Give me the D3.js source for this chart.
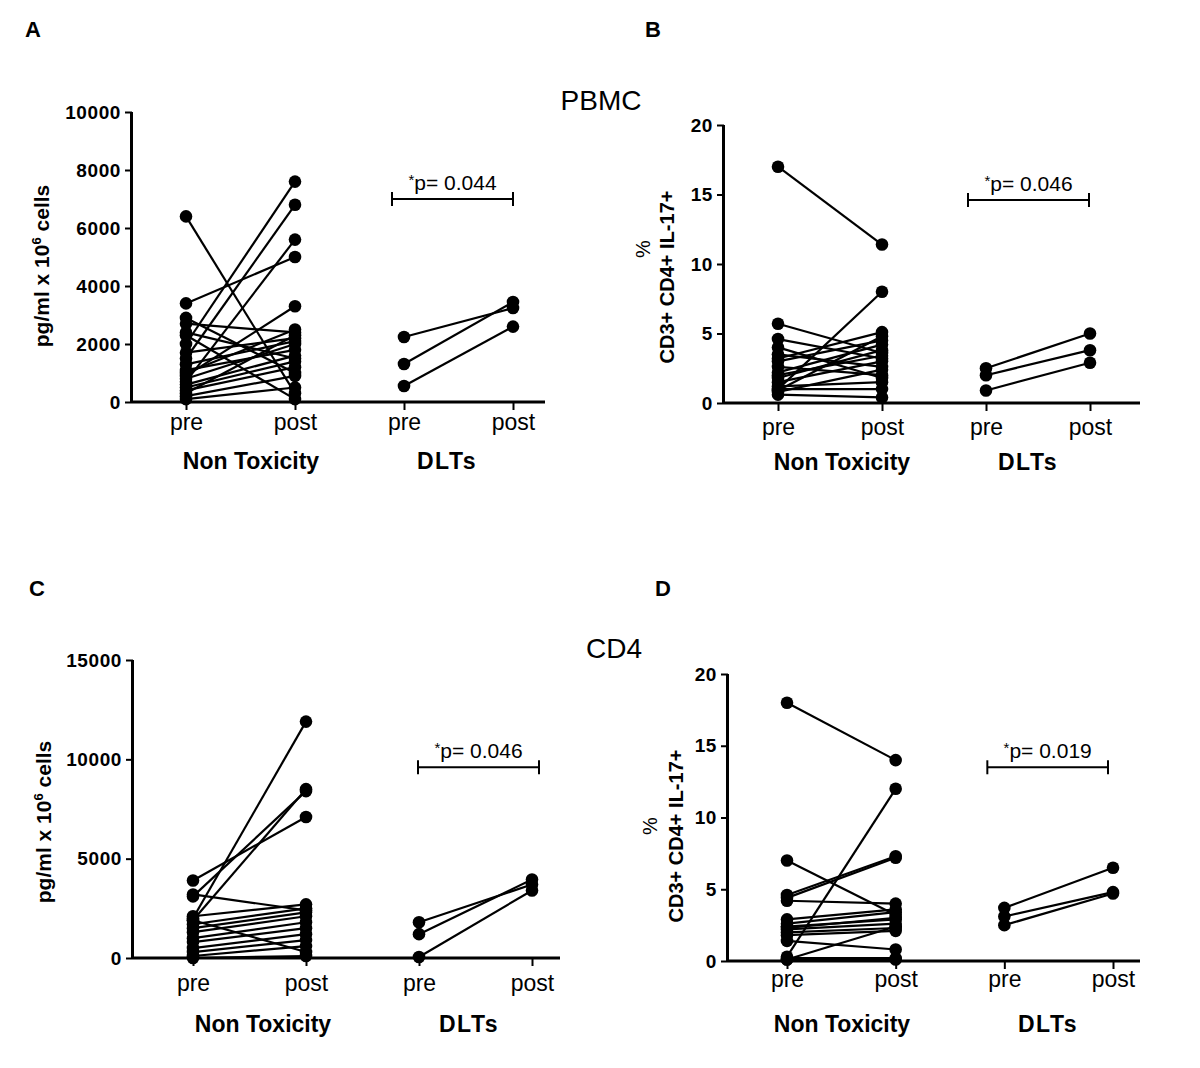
<!DOCTYPE html>
<html>
<head>
<meta charset="utf-8">
<script src="https://cdn.jsdelivr.net/npm/d3@7"></script>
<style>
  html, body { margin: 0; padding: 0; background: #fff; }
  svg { display: block; }
  text { font-family: "Liberation Sans", Arial, sans-serif; fill: #000; }
</style>
</head>
<body>
<svg id="chart" width="1200" height="1068"></svg>
<script>
// ---------- data ----------
const categories = ["NT-pre", "NT-post", "DLT-pre", "DLT-post"];
const categoryLabels = ["pre", "post", "pre", "post"];
const groupLabels = ["Non Toxicity", "DLTs"];
const panelLetters = ["A", "B", "C", "D"];
const rowTitles = ["PBMC", "CD4"];

// Panel A: IL-17 pg/ml x 10^6 cells (PBMC)
const aTicks = [0, 2000, 4000, 6000, 8000, 10000];
const aNtPre  = [6400, 2000, 1500, 700, 3400, 900, 2900, 2700, 2400, 2300, 1700, 1300, 1100, 800, 600, 500, 400, 300, 200, 100, 1000];
const aNtPost = [300, 7600, 6800, 5600, 5000, 3300, 1000, 2400, 1500, 100, 2200, 2100, 1800, 2000, 1600, 1400, 1200, 2300, 900, 500, 2500];
const aDltPre  = [2240, 1310, 550];
const aDltPost = [3240, 3450, 2600];
const aSig = 7000, aP = "p= 0.044";

// Panel B: % CD3+ CD4+ IL-17+ (PBMC)
const bTicks = [0, 5, 10, 15, 20];
const bNtPre  = [17.0, 1.0, 5.7, 4.6, 4.0, 3.2, 3.0, 2.6, 2.2, 1.8, 1.5, 1.2, 0.8, 0.6, 1.0, 2.0, 3.5, 0.9];
const bNtPost = [11.4, 8.0, 3.6, 3.2, 1.8, 5.1, 4.5, 2.0, 4.2, 3.8, 3.0, 1.5, 2.4, 0.4, 1.0, 3.4, 2.6, 4.8];
const bDltPre  = [2.5, 2.0, 0.9];
const bDltPost = [5.0, 3.8, 2.9];
const bSig = 14.6, bP = "p= 0.046";

// Panel C: IL-17 pg/ml x 10^6 cells (CD4)
const cTicks = [0, 5000, 10000, 15000];
const cNtPre  = [2000, 3900, 3100, 1900, 3200, 2100, 1700, 1500, 1300, 1000, 800, 500, 300, 100, 0, 1900];
const cNtPost = [11900, 7100, 8400, 8500, 2400, 2700, 2500, 2300, 2100, 1800, 1500, 1200, 900, 600, 100, 300];
const cDltPre  = [1800, 1200, 50];
const cDltPost = [3700, 3950, 3400];
const cSig = 9600, cP = "p= 0.046";

// Panel D: % CD3+ CD4+ IL-17+ (CD4)
const dTicks = [0, 5, 10, 15, 20];
const dNtPre  = [18.0, 0.3, 7.0, 4.6, 4.4, 4.2, 2.9, 2.6, 2.4, 2.2, 2.0, 1.8, 1.4, 0.2, 0.1, 2.3, 0.1];
const dNtPost = [14.0, 12.0, 3.2, 7.3, 7.2, 4.0, 3.6, 3.4, 2.9, 2.6, 2.3, 2.1, 0.8, 0.2, 0.1, 3.0, 2.4];
const dDltPre  = [3.7, 3.1, 2.5];
const dDltPost = [6.5, 4.8, 4.7];
const dSig = 13.5, dP = "p= 0.019";

// ---------- layout ----------
const panels = [
  { letter: panelLetters[0], ticks: aTicks, max: 10000, ntPre: aNtPre, ntPost: aNtPost, dltPre: aDltPre, dltPost: aDltPost, sig: aSig, p: aP,
    axX: 132, y0: 402, yTop: 112, xr: [186, 513], xEnd: 545, sigX: [-12, 0],
    yLabel: "pg", ylx: 49, yly: 266, catOff: 28, grpY: 469, grpX: [251, 447], letterPos: [25, 37] },
  { letter: panelLetters[1], ticks: bTicks, max: 20, ntPre: bNtPre, ntPost: bNtPost, dltPre: bDltPre, dltPost: bDltPost, sig: bSig, p: bP,
    axX: 724, y0: 403, yTop: 125, xr: [778, 1090], xEnd: 1140, sigX: [-18, -1],
    yLabel: "pct", ylx: [650, 674], yly: [249, 277], catOff: 32, grpY: 470, grpX: [842, 1028], letterPos: [645, 37] },
  { letter: panelLetters[2], ticks: cTicks, max: 15000, ntPre: cNtPre, ntPost: cNtPost, dltPre: cDltPre, dltPost: cDltPost, sig: cSig, p: cP,
    axX: 133, y0: 958, yTop: 660, xr: [193, 532], xEnd: 560, sigX: [-1, 7],
    yLabel: "pg", ylx: 51, yly: 822, catOff: 33, grpY: 1032, grpX: [263, 469], letterPos: [29, 596] },
  { letter: panelLetters[3], ticks: dTicks, max: 20, ntPre: dNtPre, ntPost: dNtPost, dltPre: dDltPre, dltPost: dDltPost, sig: dSig, p: dP,
    axX: 728, y0: 961, yTop: 674, xr: [787, 1113], xEnd: 1140, sigX: [-17, -5],
    yLabel: "pct", ylx: [657, 683], yly: [826, 836], catOff: 26, grpY: 1032, grpX: [842, 1048], letterPos: [655, 596] }
];

const svg = d3.select("#chart");
svg.append("rect").attr("width", 1200).attr("height", 1068).attr("fill", "#fff");

// Row titles
svg.append("text").attr("x", 601).attr("y", 110).attr("text-anchor", "middle")
  .style("font-size", "28px").text(rowTitles[0]);
svg.append("text").attr("x", 614).attr("y", 658).attr("text-anchor", "middle")
  .style("font-size", "28px").text(rowTitles[1]);

panels.forEach(P => {
  const g = svg.append("g");
  const y = d3.scaleLinear().domain([0, P.max]).range([P.y0, P.yTop]);
  const x = d3.scalePoint().domain(categories).range(P.xr);

  // panel letter
  svg.append("text").attr("x", P.letterPos[0]).attr("y", P.letterPos[1])
    .style("font-size", "22px").style("font-weight", "bold").text(P.letter);

  // Y axis
  const yAx = g.append("g").attr("transform", `translate(${P.axX},0)`)
    .call(d3.axisLeft(y).tickValues(P.ticks).tickSize(7).tickPadding(4).tickFormat(d3.format("d")));
  yAx.select(".domain").attr("stroke-width", 3).attr("d", `M-0.5,${P.y0}V${P.yTop}`);
  yAx.selectAll(".tick line").attr("stroke-width", 2);
  yAx.selectAll(".tick text").style("font-size", "19px").style("font-weight", "bold")
    .style("letter-spacing", "0.6px")
    .style("font-family", "'Liberation Sans', Arial, sans-serif");

  // X axis baseline
  g.append("line").attr("x1", P.axX).attr("x2", P.xEnd).attr("y1", P.y0).attr("y2", P.y0)
    .attr("stroke", "#000").attr("stroke-width", 3);
  const xAx = g.append("g").attr("transform", `translate(0,${P.y0})`)
    .call(d3.axisBottom(x).tickSize(8).tickPadding(P.catOff - 8 - 16.3)
      .tickFormat((d, i) => categoryLabels[i]));
  xAx.select(".domain").remove();
  xAx.selectAll(".tick line").attr("stroke-width", 2);
  xAx.selectAll(".tick text").style("font-size", "23px")
    .style("font-family", "'Liberation Sans', Arial, sans-serif");

  // group labels
  groupLabels.forEach((lab, i) => {
    g.append("text").attr("x", P.grpX[i]).attr("y", P.grpY).attr("text-anchor", "middle")
      .style("font-size", "23px").style("font-weight", "bold")
      .style("letter-spacing", i === 1 ? "1.5px" : "0px").text(lab);
  });

  // Y label
  if (P.yLabel === "pg") {
    const t = g.append("text").attr("transform", `translate(${P.ylx},${P.yly}) rotate(-90)`)
      .attr("text-anchor", "middle").style("font-size", "21px").style("font-weight", "bold");
    t.append("tspan").text("pg/ml x 10");
    t.append("tspan").attr("dy", -8).style("font-size", "13px").text("6");
    t.append("tspan").attr("dy", 8).text(" cells");
  } else {
    g.append("text").attr("transform", `translate(${P.ylx[0]},${P.yly[0]}) rotate(-90)`)
      .attr("text-anchor", "middle").style("font-size", "20px").text("%");
    g.append("text").attr("transform", `translate(${P.ylx[1]},${P.yly[1]}) rotate(-90)`)
      .attr("text-anchor", "middle").style("font-size", "20px").style("font-weight", "bold")
      .text("CD3+ CD4+ IL-17+");
  }

  // paired lines and points
  const pairs = [];
  P.ntPre.forEach((v, i) => pairs.push([["NT-pre", v], ["NT-post", P.ntPost[i]]]));
  P.dltPre.forEach((v, i) => pairs.push([["DLT-pre", v], ["DLT-post", P.dltPost[i]]]));
  const line = d3.line().x(d => x(d[0])).y(d => y(d[1]));
  g.append("g").selectAll("path").data(pairs).join("path")
    .attr("d", line).attr("fill", "none").attr("stroke", "#000").attr("stroke-width", 2.2);
  const pts = pairs.flat();
  g.append("g").selectAll("circle").data(pts).join("circle")
    .attr("cx", d => x(d[0])).attr("cy", d => y(d[1])).attr("r", 6.3).attr("fill", "#000");

  // significance bar
  const sx1 = x("DLT-pre") + P.sigX[0], sx2 = x("DLT-post") + P.sigX[1], sy = y(P.sig);
  const sg = g.append("g").attr("stroke", "#000").attr("stroke-width", 2);
  sg.append("line").attr("x1", sx1).attr("x2", sx2).attr("y1", sy).attr("y2", sy);
  sg.append("line").attr("x1", sx1).attr("x2", sx1).attr("y1", sy - 7).attr("y2", sy + 7);
  sg.append("line").attr("x1", sx2).attr("x2", sx2).attr("y1", sy - 7).attr("y2", sy + 7);
  const st = g.append("text").attr("x", (sx1 + sx2) / 2).attr("y", sy - 9)
    .attr("text-anchor", "middle").style("font-size", "21px");
  st.append("tspan").attr("dy", -5).style("font-size", "15px").text("*");
  st.append("tspan").attr("dy", 5).text(P.p);
});
</script>
</body>
</html>
